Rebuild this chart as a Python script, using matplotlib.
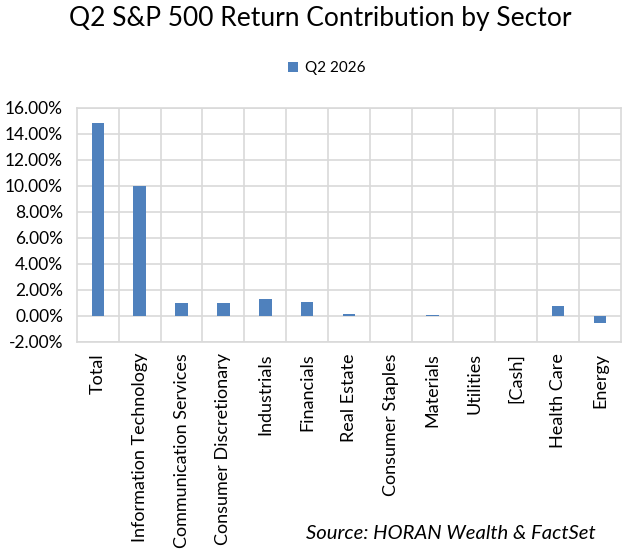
import matplotlib.pyplot as plt
from matplotlib.ticker import FuncFormatter, MultipleLocator

plt.rcParams['font.family'] = ['Lato', 'DejaVu Sans']

sectors = ['Total', 'Information Technology', 'Communication Services',
           'Consumer Discretionary', 'Industrials', 'Financials', 'Real Estate',
           'Consumer Staples', 'Materials', 'Utilities', '[Cash]', 'Health Care',
           'Energy']
q2_2026 = [14.8, 10.0, 0.98, 0.98, 1.28, 1.1, 0.15, 0.01, 0.05, 0.0, 0.0, 0.75, -0.55]

fig = plt.figure(figsize=(6.4, 5.56), dpi=100)
ax = fig.add_axes([0.1203, 0.385, 0.8497, 0.421])

x = range(len(sectors))
ax.bar(x, q2_2026, width=0.3, color='#4f81bd', label='Q2 2026', zorder=3)

ax.set_xlim(-0.5, len(sectors) - 0.5)
ax.set_ylim(-2, 16)
ax.yaxis.set_major_locator(MultipleLocator(2))
ax.yaxis.set_major_formatter(FuncFormatter(lambda v, p: f'{v:.2f}%'))
ax.set_xticks([i + 0.5 for i in range(len(sectors) - 1)], minor=False)
ax.set_xticklabels([])
ax.set_xticks(list(x), minor=True)
ax.set_xticklabels(sectors, minor=True, rotation=90, fontsize=13)
ax.tick_params(axis='x', which='both', length=0, pad=8)
ax.tick_params(axis='y', length=0, labelsize=12.5, pad=10)
ax.grid(True, which='major', color='#d9d9d9', linewidth=1.2, zorder=0)
for s in ax.spines.values():
    s.set_color('#d9d9d9')
    s.set_linewidth(1.2)

fig.text(0.5, 0.966, 'Q2 S&P 500 Return Contribution by Sector', ha='center',
         va='center', fontsize=19)
fig.legend(loc='center', bbox_to_anchor=(0.51, 0.877), frameon=False, fontsize=11,
           handlelength=0.7, handleheight=0.7, handletextpad=0.4)
fig.text(0.93, 0.041, 'Source: HORAN Wealth & FactSet', ha='right', va='center',
         fontsize=14.6, style='italic')

fig.savefig('out.png', dpi=100)
